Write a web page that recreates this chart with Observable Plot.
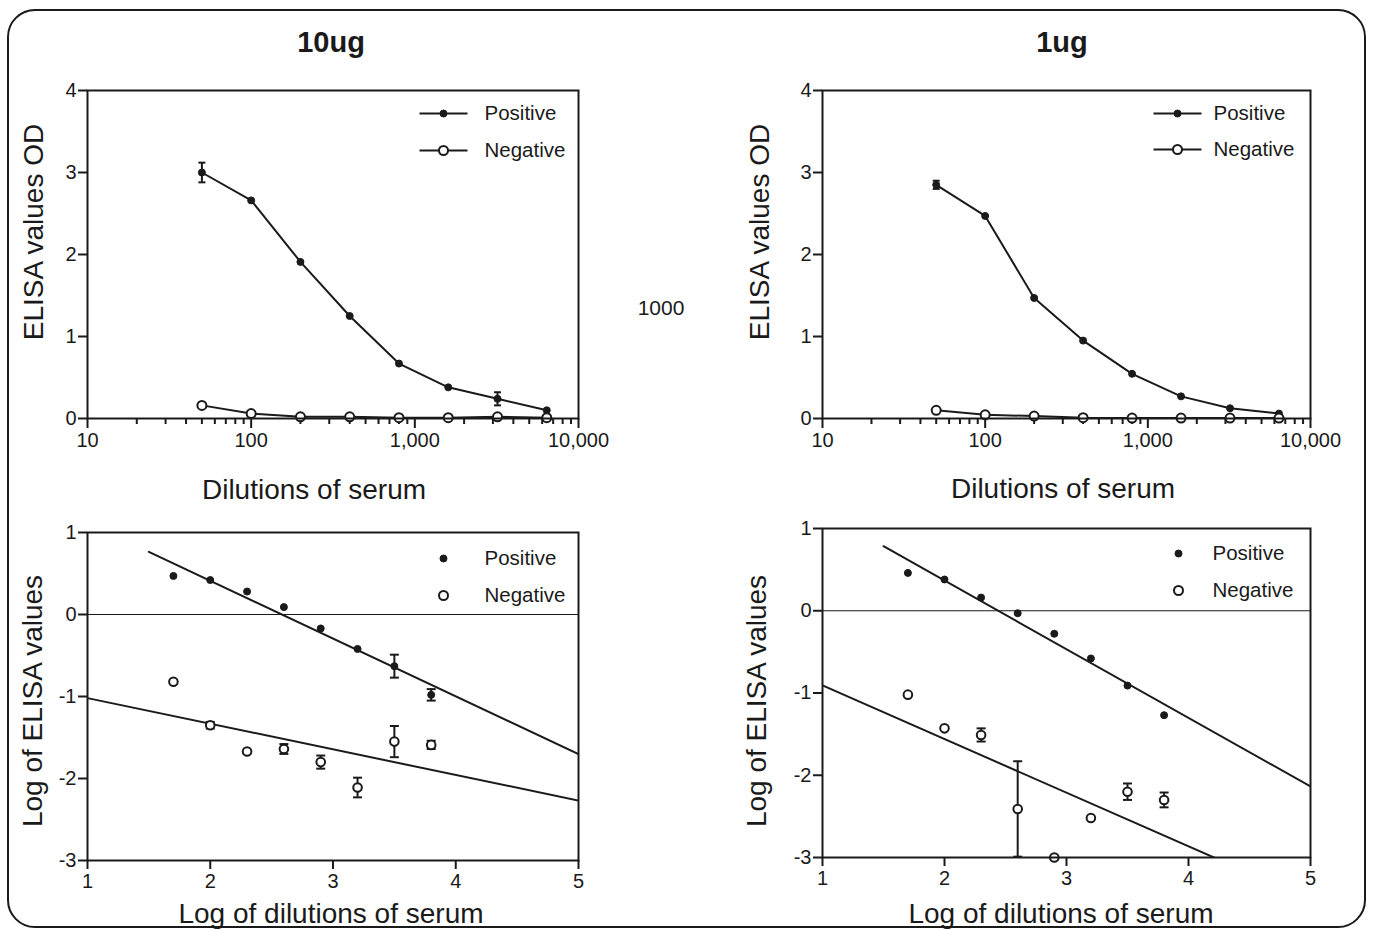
<!DOCTYPE html>
<html>
<head>
<meta charset="utf-8">
<script src="https://cdn.jsdelivr.net/npm/d3@7"></script>
<script src="https://cdn.jsdelivr.net/npm/@observablehq/plot@0.6"></script>
<style>
  html, body { margin: 0; padding: 0; background: #fff; overflow: hidden; }
  #wrap { position: relative; width: 1374px; height: 930px; overflow: hidden;
          font-family: "Liberation Sans", Arial, sans-serif; color: #1a1a1a; }
  #border { position: absolute; left: 7px; top: 9px; width: 1359px; height: 919px;
            box-sizing: border-box; border: 2.5px solid #1a1a1a; border-radius: 28px; }
  .t { position: absolute; white-space: nowrap; transform: translate(-50%, -50%); line-height: 1; }
  .title { font-weight: bold; font-size: 29px; }
  .axt { font-size: 28px; }
  .rot { transform: translate(-50%, -50%) rotate(-90deg); }
  .p { position: absolute; }
</style>
</head>
<body>
<div id="wrap">
  <div id="border"></div>
  <div class="t title" style="left:331px;top:42px;">10ug</div>
  <div class="t title" style="left:1062px;top:42px;">1ug</div>
  <div class="t" style="left:661px;top:307px;font-size:21px;">1000</div>

  <div class="p" id="tl" style="left:0px;top:70px;"></div>
  <div class="p" id="tr" style="left:735px;top:70px;"></div>
  <div class="p" id="bl" style="left:0px;top:510px;"></div>
  <div class="p" id="br" style="left:735px;top:510px;"></div>

  <div class="t axt rot" style="left:34px;top:232px;">ELISA values OD</div>
  <div class="t axt rot" style="left:760px;top:232px;">ELISA values OD</div>
  <div class="t axt" style="left:314px;top:490px;">Dilutions of serum</div>
  <div class="t axt" style="left:1063px;top:489px;">Dilutions of serum</div>
  <div class="t axt rot" style="left:33px;top:701px;">Log of ELISA values</div>
  <div class="t axt rot" style="left:757px;top:701px;">Log of ELISA values</div>
  <div class="t axt" style="left:331px;top:914px;">Log of dilutions of serum</div>
  <div class="t axt" style="left:1061px;top:914px;">Log of dilutions of serum</div>
</div>
<script>
// ---------- data ----------
const dilutions = [50, 100, 200, 400, 800, 1600, 3200, 6400];
const pos10    = [3.00, 2.66, 1.91, 1.25, 0.67, 0.38, 0.24, 0.10];
const pos10Err = [0.12, 0, 0, 0, 0, 0, 0.08, 0];
const neg10    = [0.16, 0.06, 0.02, 0.02, 0.01, 0.01, 0.02, 0.01];
const neg10Err = [0, 0, 0, 0, 0, 0, 0, 0];
const pos1     = [2.85, 2.47, 1.47, 0.95, 0.545, 0.27, 0.125, 0.06];
const pos1Err  = [0.05, 0, 0, 0, 0, 0, 0, 0];
const neg1     = [0.10, 0.045, 0.03, 0.01, 0.005, 0.005, 0.005, 0.005];
const neg1Err  = [0, 0, 0, 0, 0, 0, 0, 0];

const logDil      = [1.7, 2.0, 2.3, 2.6, 2.9, 3.2, 3.5, 3.8];
const logPos10    = [0.47, 0.42, 0.28, 0.09, -0.17, -0.42, -0.63, -0.98];
const logPos10Err = [0, 0, 0, 0, 0, 0, 0.14, 0.07];
const logNeg10    = [-0.82, -1.35, -1.67, -1.64, -1.80, -2.11, -1.55, -1.59];
const logNeg10Err = [0, 0.04, 0, 0.06, 0.08, 0.12, 0.19, 0.05];
const logPos1     = [0.46, 0.38, 0.16, -0.03, -0.28, -0.58, -0.91, -1.27];
const logPos1Err  = [0, 0, 0, 0, 0, 0, 0, 0];
const logNeg1     = [-1.02, -1.43, -1.51, -2.41, -3.00, -2.52, -2.20, -2.30];
const logNeg1Err  = [0, 0, 0.08, 0.58, 0, 0, 0.10, 0.09];

// fitted-line x extents (as drawn in the reference)
const posFitRange = [1.5, 5];
const negFitRange = [1, 5];

const dilTicks = [10, 100, 1000, 10000];
const dilMinor = [20,30,40,50,60,70,80,90,200,300,400,500,600,700,800,900,2000,3000,4000,5000,6000,7000,8000,9000];
const odTicks = [0, 1, 2, 3, 4];
const logXTicks = [1, 2, 3, 4, 5];
const logYTicks = [-3, -2, -1, 0, 1];
const seriesNames = ["Positive", "Negative"];

// ---------- helpers ----------
const INK = "#1a1a1a";
const barSymbol = { draw(ctx, size) { const r = Math.sqrt(size / Math.PI); ctx.moveTo(-r, 0); ctx.lineTo(r, 0); } };
const plain = d => String(d);

function rows(xs, ys, es) { return xs.map((x, i) => ({ x, y: ys[i], e: es[i] })); }

function fitLine(xs, ys, range) {
  const mx = d3.mean(xs), my = d3.mean(ys);
  const sxy = d3.sum(xs, (x, i) => (x - mx) * (ys[i] - my));
  const sxx = d3.sum(xs, x => (x - mx) ** 2);
  const b = sxy / sxx, a = my - b * mx;
  return range.map(x => ({ x, y: a + b * x }));
}

function errorMarks(data, capR) {
  const d = data.filter(r => r.e > 0);
  return [
    Plot.ruleX(d, { x: "x", y1: r => r.y - r.e, y2: r => r.y + r.e, stroke: INK, strokeWidth: 2, clip: true }),
    Plot.dot(d, { x: "x", y: r => r.y - r.e, symbol: barSymbol, r: capR, stroke: INK, strokeWidth: 2, clip: true }),
    Plot.dot(d, { x: "x", y: r => r.y + r.e, symbol: barSymbol, r: capR, stroke: INK, strokeWidth: 2, clip: true })
  ];
}

function legendMarks(withLine, lg) {
  const m = [];
  lg.ys.forEach((dy, k) => {
    if (withLine) m.push(Plot.dot([k], { frameAnchor: "top-right", dx: lg.dotDx, dy, symbol: barSymbol, r: 24, stroke: INK, strokeWidth: 2 }));
    if (k === 0) m.push(Plot.dot([k], { frameAnchor: "top-right", dx: lg.dotDx, dy, r: 3.5, fill: INK, stroke: INK, strokeWidth: 1 }));
    else m.push(Plot.dot([k], { frameAnchor: "top-right", dx: lg.dotDx, dy, r: 4.5, fill: "white", stroke: INK, strokeWidth: 2 }));
    m.push(Plot.text([seriesNames[k]], { frameAnchor: "top-right", dx: lg.textDx, dy, textAnchor: "start", lineAnchor: "middle", fontSize: 20.5, fill: INK }));
  });
  return m;
}

const STYLE = "font-family: 'Liberation Sans', Arial, sans-serif; font-size: 20px; color: #1a1a1a; background: none; overflow: visible;";

function topPanel(pos, posErr, neg, negErr, w, lg) {
  const P = rows(dilutions, pos, posErr), N = rows(dilutions, neg, negErr);
  return Plot.plot({
    width: w, height: 440, marginLeft: 87, marginRight: 32, marginTop: 20, marginBottom: 92,
    style: STYLE,
    x: { type: "log", domain: [10, 10000] },
    y: { domain: [0, 4] },
    marks: [
      Plot.axisX(dilTicks, { tickSize: 10, tickPadding: 4, tickFormat: d3.format(","), stroke: INK, strokeWidth: 2, fontSize: 20, label: null }),
      Plot.axisX(dilMinor, { tickSize: 6, tickFormat: () => "", stroke: INK, strokeWidth: 2, label: null }),
      Plot.axisY(odTicks, { tickSize: 9, tickPadding: 2, tickFormat: plain, stroke: INK, strokeWidth: 2, fontSize: 20, label: null }),
      Plot.line(P, { x: "x", y: "y", stroke: INK, strokeWidth: 2 }),
      Plot.line(N, { x: "x", y: "y", stroke: INK, strokeWidth: 2 }),
      ...errorMarks(P, 3.5), ...errorMarks(N, 3.5),
      Plot.dot(P, { x: "x", y: "y", r: 3.5, fill: INK, stroke: INK, strokeWidth: 1 }),
      Plot.dot(N, { x: "x", y: "y", r: 4.5, fill: "white", stroke: INK, strokeWidth: 2 }),
      Plot.frame({ stroke: INK, strokeWidth: 2 }),
      ...legendMarks(true, lg)
    ]
  });
}

function bottomPanel(pos, posErr, neg, negErr, w, mt, mb, lg) {
  const P = rows(logDil, pos, posErr), N = rows(logDil, neg, negErr);
  return Plot.plot({
    width: w, height: 420, marginLeft: 87, marginRight: 32, marginTop: mt, marginBottom: mb,
    style: STYLE,
    x: { domain: [1, 5] },
    y: { domain: [-3, 1] },
    marks: [
      Plot.axisX(logXTicks, { tickSize: 9, tickPadding: 4, tickFormat: plain, stroke: INK, strokeWidth: 2, fontSize: 20, label: null }),
      Plot.axisY(logYTicks, { tickSize: 9, tickPadding: 2, tickFormat: plain, stroke: INK, strokeWidth: 2, fontSize: 20, label: null }),
      Plot.ruleY([0], { stroke: INK, strokeWidth: 1.2 }),
      Plot.line(fitLine(logDil, pos, posFitRange), { x: "x", y: "y", stroke: INK, strokeWidth: 2, clip: true }),
      Plot.line(fitLine(logDil, neg, negFitRange), { x: "x", y: "y", stroke: INK, strokeWidth: 2, clip: true }),
      ...errorMarks(P, 4.5), ...errorMarks(N, 4.5),
      Plot.dot(P, { x: "x", y: "y", r: 3.5, fill: INK, stroke: INK, strokeWidth: 1 }),
      Plot.dot(N, { x: "x", y: "y", r: 4.3, fill: "white", stroke: INK, strokeWidth: 2 }),
      Plot.frame({ stroke: INK, strokeWidth: 2 }),
      ...legendMarks(false, lg)
    ]
  });
}

document.getElementById("tl").append(topPanel(pos10, pos10Err, neg10, neg10Err, 610, { ys: [23, 60], dotDx: -135, textDx: -94 }));
document.getElementById("tr").append(topPanel(pos1, pos1Err, neg1, neg1Err, 607, { ys: [23, 59], dotDx: -133, textDx: -97 }));
document.getElementById("bl").append(bottomPanel(logPos10, logPos10Err, logNeg10, logNeg10Err, 610, 22, 70, { ys: [26, 63], dotDx: -135, textDx: -94 }));
document.getElementById("br").append(bottomPanel(logPos1, logPos1Err, logNeg1, logNeg1Err, 607, 18, 73, { ys: [25, 62], dotDx: -132, textDx: -98 }));
</script>
</body>
</html>
